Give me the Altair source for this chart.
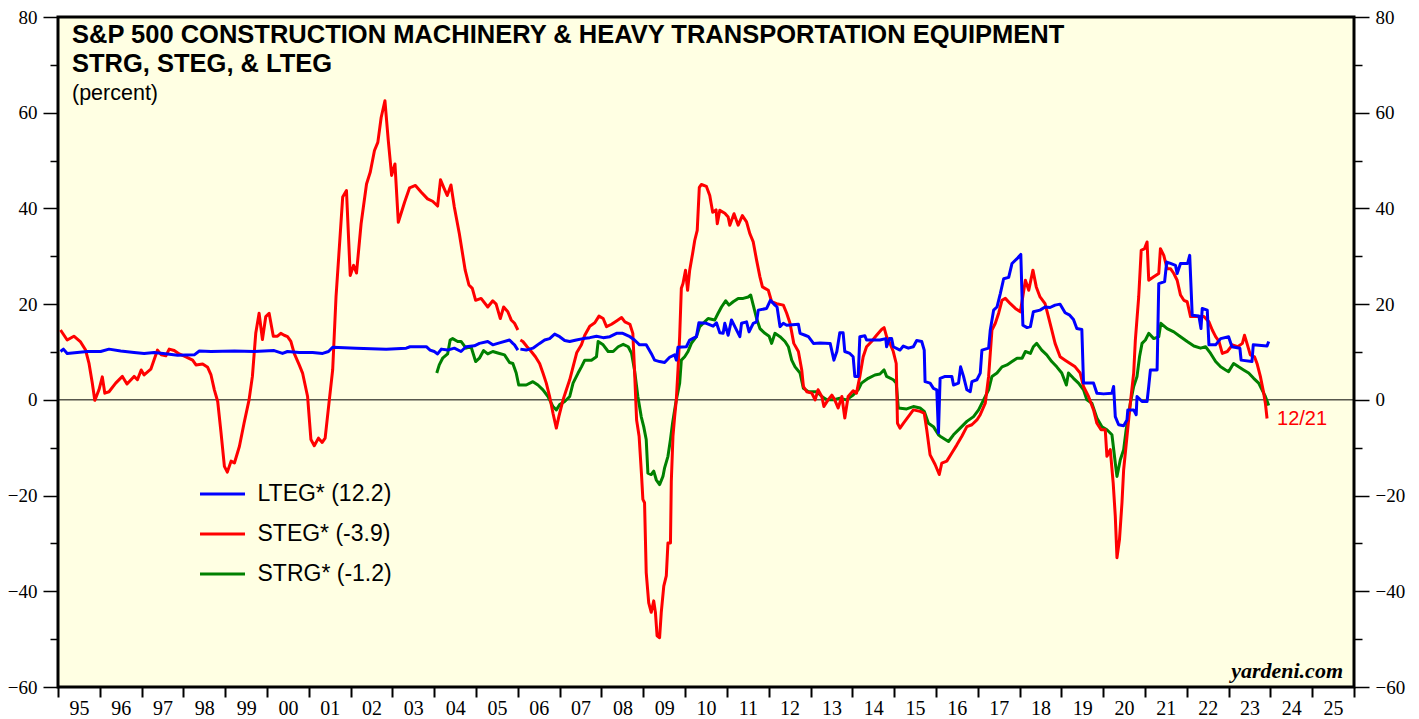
import altair as alt
import pandas as pd

# ---------------- data ----------------
LTEG = "LTEG* (12.2)"
STEG = "STEG* (-3.9)"
STRG = "STRG* (-1.2)"
series_order = [LTEG, STEG, STRG]
series_colors = ["#0000FF", "#FF0000", "#008000"]

steg_years_a = [1995.06,1995.22,1995.38,1995.54,1995.66,1995.74,1995.82,1995.88,1995.98,1996.06,
    1996.12,1996.22,1996.38,1996.54,1996.65,1996.82,1996.90,1996.99,1997.06,1997.22,
    1997.38,1997.47,1997.58,1997.66,1997.78,1997.90,1998.06,1998.22,1998.30,1998.46,
    1998.58,1998.66,1998.74,1998.82,1998.90,1998.98,1999.05,1999.14,1999.22,1999.34,
    1999.45,1999.57,1999.65,1999.73,1999.81,1999.89,1999.97,2000.05,2000.15,2000.25,
    2000.33,2000.41,2000.49,2000.57,2000.65,2000.77,2000.85,2000.97,2001.05,2001.13,
    2001.23,2001.32,2001.39,2001.49,2001.57,2001.65,2001.73,2001.81,2001.90,2001.99,
    2002.07,2002.14,2002.25,2002.38,2002.47,2002.57,2002.65,2002.73,2002.82,2002.90,
    2002.98,2003.06,2003.14,2003.29,2003.41,2003.55,2003.69,2003.84,2003.96,2004.08,
    2004.15,2004.23,2004.31,2004.40,2004.48,2004.60,2004.74,2004.83,2004.91,2004.99,
    2005.12,2005.28,2005.40,2005.48,2005.58,2005.66,2005.76,2005.84,2005.92,2006.00]
steg_values_a = [14.6,12.5,13.3,12.1,10.4,7.7,3.5,-0.1,2.1,4.8,
    1.4,1.7,3.5,4.9,3.3,4.9,4.2,6.25,5.2,6.4,
    10.4,9.4,9.2,10.6,10.3,9.6,9.0,8.3,7.3,7.5,
    6.8,5.2,2.1,-0.35,-6.9,-13.9,-15.1,-12.8,-13.2,-9.7,
    -4.9,0,4.9,13.9,18.1,12.6,17.4,18.1,13.3,13.3,
    13.9,13.5,13.2,12.2,9.7,7.3,5.6,0.7,-8.3,-9.6,
    -8.0,-8.9,-8.0,0,6.25,21.5,31.9,42.4,43.75,26.0,
    28.1,26.5,36.8,45.1,47.6,52.1,53.8,59.0,62.5,54.2,
    46.9,49.3,37.1,41.3,44.3,44.8,43.4,42.0,41.5,40.5,
    46.0,44.3,42.7,44.9,40.3,34.7,27.1,24.0,23.3,20.8,
    21.2,19.4,20.7,20.0,17.0,19.4,18.4,16.7,16.0,14.6]

steg_years_b = [2006.06,2006.12,2006.22,2006.32,2006.42,2006.52,2006.60,2006.68,2006.76,2006.84,
    2006.92,2006.98,2007.08,2007.16,2007.24,2007.32,2007.41,2007.52,2007.60,2007.72,
    2007.84,2007.94,2008.04,2008.12,2008.24,2008.36,2008.48,2008.56,2008.68,2008.75,
    2008.79,2008.84,2008.90,2008.96,2008.99,2009.03,2009.07,2009.13,2009.19,2009.25,
    2009.29,2009.33,2009.39,2009.43,2009.49,2009.55,2009.59,2009.65,2009.67,2009.71,
    2009.75,2009.79,2009.83,2009.87,2009.91,2009.95,2010.01,2010.06,2010.11,2010.18,
    2010.23,2010.29,2010.34,2010.39,2010.51,2010.59,2010.66,2010.74,2010.77,2010.83,
    2010.95,2011.03,2011.07,2011.17,2011.27,2011.37,2011.47,2011.55,2011.63,2011.71,
    2011.79,2011.85,2011.99,2012.07,2012.19,2012.35,2012.43,2012.51,2012.60,2012.71,
    2012.79,2012.83,2012.91,2013.03,2013.11,2013.18,2013.27,2013.32,2013.42,2013.51,
    2013.58,2013.66,2013.75,2013.82,2013.90,2014.02,2014.10,2014.18,2014.26,2014.34,
    2014.46,2014.58,2014.70,2014.76,2014.82,2014.90,2014.98,2015.05,2015.08,2015.14,
    2015.22,2015.34,2015.46,2015.62,2015.72,2015.78,2015.86,2015.98,2016.08,2016.14,
    2016.26,2016.38,2016.50,2016.62,2016.74,2016.86,2016.98,2017.06,2017.18,2017.26,
    2017.34,2017.42,2017.50,2017.58,2017.66,2017.78,2017.90,2018.02,2018.14,2018.22,
    2018.32,2018.40,2018.49,2018.61,2018.69,2018.77,2018.85,2018.97,2019.09,2019.21,
    2019.33,2019.45,2019.53,2019.65,2019.77,2019.85,2019.95,2020.05,2020.09,2020.17,
    2020.24,2020.29,2020.33,2020.39,2020.45,2020.49,2020.57,2020.65,2020.73,2020.77,
    2020.85,2020.91,2020.99,2021.05,2021.09,2021.21,2021.33,2021.37,2021.45,2021.53,
    2021.61,2021.69,2021.77,2021.85,2021.93,2022.01,2022.09,2022.41,2022.53,2022.61,
    2022.69,2022.77,2022.85,2022.97,2023.09,2023.22,2023.33,2023.38,2023.44,2023.52,
    2023.62,2023.68,2023.76,2023.84,2023.88,2023.92]
steg_values_b = [12.5,12.2,11.1,10.1,9.0,7.6,5.6,3.5,0.7,-2.8,
    -5.9,-3.5,0,2.1,4.2,6.9,9.9,11.5,13.5,15.4,
    16.1,17.5,17.0,15.3,15.8,16.5,17.2,16.3,15.8,13.9,
    6.25,-4.2,-7.6,-16.0,-20.8,-21.5,-36.1,-42.4,-44.4,-42.0,
    -44.4,-49.3,-49.7,-44.4,-38.9,-36.8,-29.9,-29.9,-17.0,-7.6,
    -3.5,0,6.25,13.2,23.3,24.3,27.1,22.9,27.1,30.6,
    33.3,35.4,44.4,45.0,44.6,42.7,39.2,39.7,36.8,39.6,
    39.0,38.2,36.5,38.9,36.5,38.5,37.2,34.7,33.0,29.2,
    25.7,23.6,22.9,20.5,20.1,19.8,18.1,16.0,11.8,10.1,
    6.25,2.8,1.7,1.4,0,2.1,0.7,-1.4,0,1.0,
    0,-1.7,0.7,-3.8,0.7,1.9,1.4,4.9,9.0,11.1,
    12.2,13.5,14.7,15.1,13.2,11.8,10.1,7.6,-4.9,-5.9,
    -4.9,-3.5,-2.1,-2.4,-2.8,-6.25,-11.5,-13.5,-15.6,-13.2,
    -12.8,-11.1,-9.4,-7.6,-5.6,-5.2,-4.2,-3.1,-0.7,4.9,
    14.6,16.0,18.1,20.8,21.2,20.1,19.1,18.4,25.0,22.9,
    27.1,23.6,21.5,20.1,17.4,14.6,11.8,9.0,8.3,7.6,
    6.9,5.6,2.8,0.7,-2.1,-4.9,-6.25,-6.25,-11.8,-10.4,
    -17.4,-24.3,-33.0,-29.2,-21.5,-14.6,-7.6,-0.7,5.6,12.5,
    21.5,31.25,31.6,33.0,25.0,25.7,26.4,31.6,30.2,27.4,
    27.4,26.4,25.0,21.9,20.8,20.5,17.4,17.4,16.3,14.6,
    13.2,12.2,9.7,10.1,11.5,11.1,11.8,13.5,11.8,9.4,
    9.0,7.6,4.9,1.4,-0.7,-3.9]

lteg_years_a = [1995.06,1995.13,1995.22,1995.46,1995.70,1996.02,1996.22,1996.50,1996.82,1997.06,
    1997.30,1997.62,1997.86,1998.26,1998.38,1998.66,1999.22,1999.69,2000.17,2000.37,
    2000.49,2000.77,2001.09,2001.33,2001.47,2001.57,2002.13,2002.85,2003.33,2003.42,
    2003.81,2003.90,2004.00,2004.08,2004.17,2004.32,2004.48,2004.64,2004.76,2004.96,
    2005.08,2005.28,2005.40,2005.56,2005.80,2005.88,2005.92,2006.00]
lteg_values_a = [10.1,10.6,9.7,9.9,10.1,10.1,10.6,10.2,9.9,9.7,
    9.9,9.6,9.3,9.4,10.2,10.1,10.2,10.1,10.3,9.7,
    10.1,9.9,9.9,9.7,10.1,11.0,10.8,10.6,10.8,11.1,
    11.1,10.4,10.1,9.6,10.6,10.4,10.8,10.1,11.1,11.3,
    11.8,12.2,11.5,11.9,12.5,11.8,11.5,10.4]

lteg_years_b = [2006.06,2006.20,2006.36,2006.52,2006.64,2006.76,2006.88,2007.00,2007.12,2007.24,
    2007.40,2007.56,2007.72,2007.88,2008.04,2008.20,2008.36,2008.51,2008.68,2008.79,
    2008.91,2009.07,2009.19,2009.27,2009.39,2009.51,2009.63,2009.75,2009.79,2009.83,
    2010.03,2010.11,2010.27,2010.33,2010.51,2010.67,2010.75,2010.83,2010.91,2010.95,
    2011.03,2011.11,2011.19,2011.31,2011.35,2011.47,2011.53,2011.63,2011.71,2011.75,
    2011.95,2012.04,2012.15,2012.20,2012.27,2012.35,2012.43,2012.71,2012.75,2012.87,
    2012.95,2013.07,2013.23,2013.47,2013.56,2013.63,2013.70,2013.78,2013.82,2013.94,
    2014.02,2014.06,2014.14,2014.18,2014.30,2014.34,2014.66,2014.80,2014.82,2014.89,
    2014.94,2014.98,2015.14,2015.22,2015.34,2015.46,2015.54,2015.66,2015.72,2015.74,
    2015.86,2015.94,2016.02,2016.06,2016.10,2016.22,2016.38,2016.42,2016.54,2016.59,
    2016.66,2016.74,2016.82,2016.86,2016.98,2017.06,2017.10,2017.26,2017.30,2017.38,
    2017.46,2017.54,2017.62,2017.74,2017.82,2017.94,2018.03,2018.08,2018.18,2018.26,
    2018.33,2018.49,2018.61,2018.73,2018.85,2018.97,2019.09,2019.20,2019.29,2019.37,
    2019.49,2019.53,2019.77,2019.85,2020.01,2020.21,2020.25,2020.29,2020.37,2020.49,
    2020.57,2020.59,2020.73,2020.79,2020.81,2020.93,2021.05,2021.09,2021.13,2021.29,
    2021.33,2021.47,2021.52,2021.61,2021.73,2021.77,2021.85,2022.02,2022.07,2022.13,
    2022.29,2022.34,2022.37,2022.49,2022.53,2022.69,2022.81,2023.00,2023.08,2023.27,
    2023.30,2023.56,2023.59,2023.92,2023.96]
lteg_values_b = [10.6,10.4,10.8,11.8,12.5,12.8,13.75,13.2,12.4,12.2,
    12.5,12.8,13.0,13.3,13.0,13.2,13.9,13.9,13.2,12.5,
    11.5,11.5,9.7,8.3,8.0,7.8,8.9,9.4,8.3,11.0,
    11.1,12.5,13.2,16.1,16.0,15.4,16.1,14.0,13.9,16.0,
    13.5,16.7,15.3,13.2,16.0,16.3,14.2,16.0,16.3,18.75,
    19.1,20.8,19.8,19.4,15.3,16.0,15.6,15.8,13.9,13.5,
    13.2,11.8,11.9,11.8,8.3,10.1,14.0,14.0,10.1,9.7,
    9.0,4.9,4.9,13.2,13.4,12.5,12.5,12.8,11.1,12.8,
    12.8,11.1,10.4,11.25,10.8,11.1,12.4,12.2,10.4,3.8,
    3.5,2.4,2.1,-6.9,4.5,4.9,4.9,3.1,3.5,6.9,
    4.9,2.1,1.7,3.8,4.2,5.6,10.4,10.8,14.6,18.75,
    19.4,22.2,25.3,25.6,28.5,29.5,30.4,15.6,15.1,15.3,
    18.4,18.75,19.4,19.3,19.8,20.0,18.2,17.7,16.8,14.9,
    14.7,3.5,3.5,1.4,1.25,1.4,2.8,-3.5,-5.2,-5.4,
    -4.2,-2.1,-2.1,-3.1,0.7,-0.35,-0.35,2.8,6.25,6.25,
    24.3,24.7,28.8,28.5,28.1,26.4,28.5,28.5,30.2,17.7,
    17.5,14.9,19.1,18.75,11.5,11.5,12.8,13.2,11.1,10.8,
    8.3,8.0,11.5,11.25,12.2]

strg_years = [2004.06,2004.12,2004.20,2004.32,2004.38,2004.44,2004.56,2004.64,2004.76,2004.88,
    2004.99,2005.08,2005.18,2005.28,2005.40,2005.56,2005.68,2005.80,2005.88,2005.96,
    2006.02,2006.20,2006.36,2006.48,2006.60,2006.72,2006.84,2006.92,2007.00,2007.12,
    2007.24,2007.32,2007.44,2007.52,2007.60,2007.76,2007.88,2007.92,2008.04,2008.16,
    2008.28,2008.40,2008.52,2008.64,2008.72,2008.79,2008.87,2008.95,2009.01,2009.07,
    2009.11,2009.19,2009.25,2009.31,2009.39,2009.47,2009.51,2009.59,2009.65,2009.70,
    2009.75,2009.79,2009.87,2009.91,2009.99,2010.07,2010.15,2010.27,2010.35,2010.55,
    2010.71,2010.79,2010.87,2010.97,2011.05,2011.15,2011.27,2011.39,2011.51,2011.57,
    2011.63,2011.71,2011.79,2011.91,2012.01,2012.07,2012.15,2012.27,2012.39,2012.47,
    2012.55,2012.63,2012.75,2012.83,2012.95,2013.15,2013.27,2013.39,2013.54,2013.70,
    2013.86,2014.02,2014.14,2014.22,2014.38,2014.54,2014.66,2014.76,2014.82,2014.98,
    2015.05,2015.10,2015.30,2015.46,2015.62,2015.72,2015.82,2015.94,2016.06,2016.10,
    2016.30,2016.42,2016.58,2016.74,2016.90,2017.02,2017.14,2017.26,2017.34,2017.46,
    2017.58,2017.70,2017.82,2017.94,2018.06,2018.14,2018.26,2018.33,2018.41,2018.53,
    2018.65,2018.77,2018.89,2019.01,2019.12,2019.17,2019.29,2019.41,2019.53,2019.61,
    2019.73,2019.85,2019.97,2020.09,2020.21,2020.29,2020.33,2020.41,2020.49,2020.55,
    2020.65,2020.73,2020.81,2020.87,2020.93,2021.01,2021.09,2021.21,2021.33,2021.38,
    2021.53,2021.69,2021.85,2022.01,2022.17,2022.33,2022.45,2022.57,2022.69,2022.81,
    2022.93,2023.00,2023.12,2023.24,2023.36,2023.48,2023.60,2023.72,2023.80,2023.88,
    2023.96]
strg_values = [5.6,7.3,8.7,9.6,12.5,12.8,12.2,12.2,10.8,11.1,
    8.0,8.7,10.3,9.6,10.1,9.7,9.4,7.8,7.6,5.6,
    3.1,3.1,3.8,3.1,2.1,0.7,-1.4,-2.1,-1.0,-0.35,
    0.7,3.5,5.6,6.9,8.3,8.3,9.0,12.2,11.5,10.1,
    10.1,11.1,11.6,11.1,9.7,6.25,0.7,-3.5,-5.6,-8.3,
    -15.3,-15.6,-14.9,-16.7,-17.7,-16.0,-14.2,-11.8,-8.3,-4.9,
    -2.1,0,3.5,8.3,9.0,10.1,11.8,13.2,15.3,17.0,
    16.7,18.1,19.4,20.7,19.8,20.5,21.2,21.2,21.5,21.9,
    19.8,17.0,14.9,13.9,13.3,11.8,13.9,13.2,12.2,11.1,
    8.3,6.9,5.6,2.4,1.7,1.7,0.7,0,0,0.35,
    0,1.0,2.1,3.5,4.5,5.2,5.4,6.25,4.9,4.2,
    3.5,-1.7,-1.9,-1.4,-1.7,-2.4,-4.9,-5.6,-7.3,-7.6,
    -8.7,-7.3,-5.9,-4.5,-3.5,-2.1,0,2.1,4.9,5.6,
    6.9,7.3,8.0,8.7,8.7,10.1,9.7,11.1,11.8,10.4,
    9.4,8.0,6.9,5.6,3.1,5.6,4.5,3.5,2.1,0,
    -0.7,-3.8,-5.6,-6.25,-7.3,-13.2,-16.0,-12.5,-10.4,-6.25,
    -0.7,2.8,4.9,9.0,11.8,12.5,13.9,12.8,13.2,16.0,
    14.9,14.2,13.2,12.2,11.25,10.8,11.1,9.7,8.0,6.9,
    6.25,5.9,7.6,6.9,6.25,5.6,4.5,3.5,2.1,0.7,
    -1.2]

year_ticks = list(range(1995, 2027))
y_major = [-60, -40, -20, 0, 20, 40, 60, 80]
y_minor = [-50, -30, -10, 10, 30, 50, 70]

title_text = "S&P 500 CONSTRUCTION MACHINERY & HEAVY TRANSPORTATION EQUIPMENT\nSTRG, STEG, & LTEG"
subtitle = "(percent)"
source_note = "yardeni.com"
last_date_label = "12/21"

# ---------------- tables ----------------
def frame(series, seg, years, vals):
    return pd.DataFrame({"series": series, "seg": seg, "year": years, "value": vals})

lines_df = pd.concat([
    frame(STRG, "strg", strg_years, strg_values),
    frame(STEG, "steg_a", steg_years_a, steg_values_a),
    frame(STEG, "steg_b", steg_years_b, steg_values_b),
    frame(LTEG, "lteg_a", lteg_years_a, lteg_values_a),
    frame(LTEG, "lteg_b", lteg_years_b, lteg_values_b),
], ignore_index=True)

zero_df = pd.DataFrame({"v": [0]})
last_df = pd.DataFrame({"year": [steg_years_b[-1]], "value": [steg_values_b[-1]],
                        "label": [last_date_label]})

W, H = 1296, 670
x_scale = alt.Scale(domain=[1995, 2026], nice=False, zero=False)
y_scale = alt.Scale(domain=[-60, 80], nice=False, zero=False)

SERIF = "Liberation Serif"
SANS = "Liberation Sans"

x_axis = alt.Axis(values=year_ticks, title=None, grid=False, domain=False,
                  labelExpr="datum.value < 2026 ? substring(toString(datum.value), 2, 4) : ''",
                  labelOffset=20.9, tickSize=10, tickWidth=2, tickColor="black",
                  labelFont=SERIF, labelFontSize=20, labelColor="black", labelPadding=1,
                  labelFlush=False, labelOverlap=False, labelBound=False)

def y_axis(orient, values, size, labels=True):
    return alt.Axis(orient=orient, values=values, title=None, grid=False, domain=False,
                    tickSize=size, tickWidth=1.5, tickColor="black", labels=labels,
                    labelFont=SERIF, labelFontSize=19, labelColor="black", labelPadding=6,
                    labelFlush=False, labelOverlap=False, labelBound=False)

zero_rule = alt.Chart(zero_df).mark_rule(color="black", strokeWidth=1).encode(
    y=alt.Y("v:Q", scale=y_scale, axis=y_axis("right", y_major, 15)))

lines = alt.Chart(lines_df).mark_line(strokeWidth=3, strokeJoin="round").encode(
    x=alt.X("year:Q", scale=x_scale, axis=x_axis),
    y=alt.Y("value:Q", scale=y_scale, axis=y_axis("left", y_major, 15)),
    color=alt.Color("series:N",
                    scale=alt.Scale(domain=series_order, range=series_colors),
                    legend=alt.Legend(orient="none", legendX=140.5, legendY=466, title=None,
                                      symbolType="stroke", symbolSize=2025, symbolStrokeWidth=3,
                                      clipHeight=22, rowPadding=17, padding=0, symbolOffset=0,
                                      labelFont=SANS, labelFontSize=23, labelColor="black",
                                      labelOffset=11, labelLimit=400, direction="vertical")),
    detail="seg:N",
)

minor_left = alt.Chart(zero_df).mark_rule(opacity=0).encode(
    y=alt.Y("v:Q", scale=y_scale, axis=y_axis("left", y_minor, 8, labels=False)))
minor_right = alt.Chart(zero_df).mark_rule(opacity=0).encode(
    y=alt.Y("v:Q", scale=y_scale, axis=y_axis("right", y_minor, 8, labels=False)))

title = alt.Chart(pd.DataFrame({"t": [title_text]})).mark_text(
    align="left", baseline="alphabetic", lineBreak="\n", lineHeight=28.5,
    font=SANS, fontWeight="bold", fontSize=25.5, color="black").encode(
    x=alt.value(14), y=alt.value(26), text="t:N")
sub = alt.Chart(pd.DataFrame({"t": [subtitle]})).mark_text(
    align="left", baseline="alphabetic", font=SANS, fontSize=21.5, color="black").encode(
    x=alt.value(14), y=alt.value(83), text="t:N")
src = alt.Chart(pd.DataFrame({"t": [source_note]})).mark_text(
    align="right", baseline="alphabetic", font=SERIF, fontWeight="bold", fontStyle="italic",
    fontSize=22, color="black").encode(x=alt.value(1285), y=alt.value(661), text="t:N")

last_lbl = alt.Chart(last_df).mark_text(align="left", baseline="middle", dx=10, font=SANS,
                                        fontSize=20, color="#FF0000").encode(
    x=alt.X("year:Q", scale=x_scale, axis=x_axis),
    y=alt.Y("value:Q", scale=y_scale, axis=None),
    text="label:N")

chart = alt.layer(zero_rule, lines, minor_left, minor_right, last_lbl, title, sub, src).resolve_axis(
    y="independent").properties(
    width=W, height=H,
    autosize=alt.AutoSizeParams(type="none"),
    padding={"left": 50, "top": 9, "right": 55, "bottom": 40},
    background="white",
).configure_view(stroke="black", strokeWidth=3, fill="#FFFFE3")

chart.save("out.html", embed_options={"renderer": "svg", "actions": False})
